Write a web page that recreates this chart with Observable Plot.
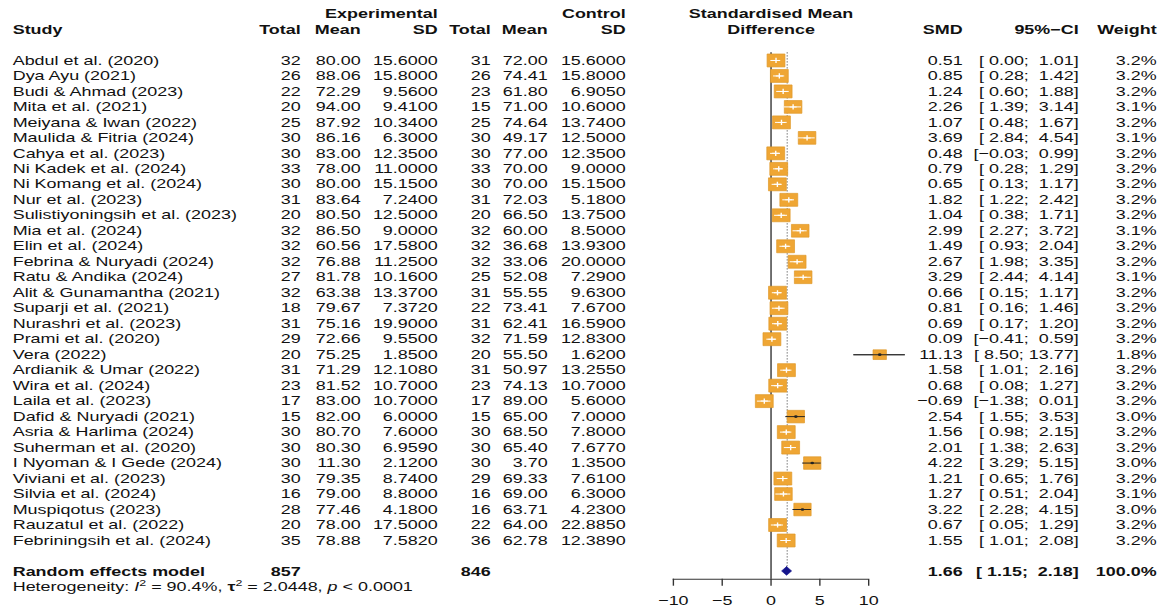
<!DOCTYPE html>
<html>
<head>
<meta charset="utf-8">
<script src="https://cdn.jsdelivr.net/npm/d3@7"></script>
<script src="https://cdn.jsdelivr.net/npm/@observablehq/plot@0.6"></script>
<style>
  html, body { margin: 0; padding: 0; background: #fff; }
  #chart svg text { white-space: pre; }
</style>
</head>
<body>
<div id="chart"></div>
<script>
// ---------------- data ----------------
const studies = ["Abdul et al. (2020)", "Dya Ayu (2021)", "Budi & Ahmad (2023)", "Mita et al. (2021)",
  "Meiyana & Iwan (2022)", "Maulida & Fitria (2024)", "Cahya et al. (2023)", "Ni Kadek et al. (2024)",
  "Ni Komang et al. (2024)", "Nur et al. (2023)", "Sulistiyoningsih et al. (2023)", "Mia et al. (2024)",
  "Elin et al. (2024)", "Febrina & Nuryadi (2024)", "Ratu & Andika (2024)", "Alit & Gunamantha (2021)",
  "Suparji et al. (2021)", "Nurashri et al. (2023)", "Prami et al. (2020)", "Vera (2022)",
  "Ardianik & Umar (2022)", "Wira et al. (2024)", "Laila et al. (2023)", "Dafid & Nuryadi (2021)",
  "Asria & Harlima (2024)", "Suherman et al. (2020)", "I Nyoman & I Gede (2024)", "Viviani et al. (2023)",
  "Silvia et al. (2024)", "Muspiqotus (2023)", "Rauzatul et al. (2022)", "Febriningsih et al. (2024)"];
const expTotal = [32,26,22,20,25,30,30,33,30,31,20,32,32,32,27,32,18,31,29,20,31,23,17,15,30,30,30,30,16,28,20,35];
const expMean = [80.00,88.06,72.29,94.00,87.92,86.16,83.00,78.00,80.00,83.64,80.50,86.50,60.56,76.88,81.78,63.38,
  79.67,75.16,72.66,75.25,71.29,81.52,83.00,82.00,80.70,80.30,11.30,79.35,79.00,77.46,78.00,78.88];
const expSD = [15.6,15.8,9.56,9.41,10.34,6.3,12.35,11.0,15.15,7.24,12.5,9.0,17.58,11.25,10.16,13.37,
  7.372,19.9,9.55,1.85,12.108,10.7,10.7,6.0,7.6,6.959,2.12,8.74,8.8,4.18,17.5,7.582];
const ctrlTotal = [31,26,23,15,25,30,30,33,30,31,20,32,32,32,25,31,22,31,32,20,31,23,17,15,30,30,30,29,16,16,22,36];
const ctrlMean = [72.00,74.41,61.80,71.00,74.64,49.17,77.00,70.00,70.00,72.03,66.50,60.00,36.68,33.06,52.08,55.55,
  73.41,62.41,71.59,55.50,50.97,74.13,89.00,65.00,68.50,65.40,3.70,69.33,69.00,63.71,64.00,62.78];
const ctrlSD = [15.6,15.8,6.905,10.6,13.74,12.5,12.35,9.0,15.15,5.18,13.75,8.5,13.93,20.0,7.29,9.63,
  7.67,16.59,12.83,1.62,13.255,10.7,5.6,7.0,7.8,7.677,1.35,7.61,6.3,4.23,22.885,12.389];
const smd = [0.51,0.85,1.24,2.26,1.07,3.69,0.48,0.79,0.65,1.82,1.04,2.99,1.49,2.67,3.29,0.66,
  0.81,0.69,0.09,11.13,1.58,0.68,-0.69,2.54,1.56,2.01,4.22,1.21,1.27,3.22,0.67,1.55];
const ciLower = [0.00,0.28,0.60,1.39,0.48,2.84,-0.03,0.28,0.13,1.22,0.38,2.27,0.93,1.98,2.44,0.15,
  0.16,0.17,-0.41,8.50,1.01,0.08,-1.38,1.55,0.98,1.38,3.29,0.65,0.51,2.28,0.05,1.01];
const ciUpper = [1.01,1.42,1.88,3.14,1.67,4.54,0.99,1.29,1.17,2.42,1.71,3.72,2.04,3.35,4.14,1.17,
  1.46,1.20,0.59,13.77,2.16,1.27,0.01,3.53,2.15,2.63,5.15,1.76,2.04,4.15,1.29,2.08];
const weight = [3.2,3.2,3.2,3.1,3.2,3.1,3.2,3.2,3.2,3.2,3.2,3.1,3.2,3.2,3.1,3.2,
  3.2,3.2,3.2,1.8,3.2,3.2,3.2,3.0,3.2,3.2,3.0,3.2,3.1,3.0,3.2,3.2];

const pooledLabel = "Random effects model";
const pooledExpTotal = 857, pooledCtrlTotal = 846;
const pooledSMD = 1.66, pooledLower = 1.15, pooledUpper = 2.18, pooledWeight = 100.0;
const hetI2 = 90.4, hetTau2 = 2.0448, hetP = "< 0.0001";
const axisTicks = [-10, -5, 0, 5, 10];

// ---------------- layout (original picture is stretched horizontally) ----------------
const K = 1.38;                       // horizontal stretch factor
const OUT_W = 1163, H = 610;
const W = OUT_W / K;
const X_LEFT = 672.7 / K, X_RIGHT = 868 / K;   // pixel ends of the forest axis (internal units)
const off = v => v / K - X_LEFT;      // dx relative to the frame's left edge
const FS = 13;
const HEAD1 = -2, HEAD2 = -1, SUM_IDX = 34, HET_IDX = 35, AXIS_IDX = 34.5;
const R_MAX = 7.3;                    // square "radius" for the largest weight
const SQ_FILL = "#EFA634", SQ_STROKE = "#E09A2A";

const minus = s => s.replace("-", "\u2212");
const fmt = (v, d) => minus(v.toFixed(d));
const ciText = (lo, hi) => `[${fmt(lo, 2).padStart(5, " ")}; ${fmt(hi, 2).padStart(5, " ")}]`;

const rows = studies.map((name, i) => ({
  idx: i + 1, name,
  eTotal: expTotal[i], eMean: expMean[i], eSD: expSD[i],
  cTotal: ctrlTotal[i], cMean: ctrlMean[i], cSD: ctrlSD[i],
  smd: smd[i], lo: ciLower[i], hi: ciUpper[i], w: weight[i]
}));

// is the CI entirely inside the square? (decides white vs dark CI line)
const unitsPerPx = 20 / (X_RIGHT - X_LEFT);
const maxW = d3.max(weight);
rows.forEach(r => {
  const half = R_MAX * Math.sqrt(r.w / maxW) * Math.sqrt(Math.PI) / 2 * unitsPerPx;
  r.inside = r.lo >= r.smd - half && r.hi <= r.smd + half;
});

const pooled = {idx: SUM_IDX, name: pooledLabel, eTotal: pooledExpTotal, cTotal: pooledCtrlTotal,
  smd: pooledSMD, lo: pooledLower, hi: pooledUpper, w: pooledWeight};

// table columns: right edge (outer px) and formatter
const cols = [
  {head: "Total",  x: 300,  f: r => String(r.eTotal)},
  {head: "Mean",   x: 360,  f: r => r.eMean.toFixed(2)},
  {head: "SD",     x: 437,  f: r => r.eSD.toFixed(4)},
  {head: "Total",  x: 490,  f: r => String(r.cTotal)},
  {head: "Mean",   x: 547,  f: r => r.cMean.toFixed(2)},
  {head: "SD",     x: 625,  f: r => r.cSD.toFixed(4)},
  {head: "SMD",    x: 962,  f: r => fmt(r.smd, 2)},
  {head: "95%\u2212CI", x: 1078, f: r => ciText(r.lo, r.hi)},
  {head: "Weight", x: 1156, f: r => r.w.toFixed(1) + "%"}
];
const pooledCols = [
  {x: 300, f: r => String(r.eTotal)},
  {x: 490, f: r => String(r.cTotal)},
  {x: 962, f: r => fmt(r.smd, 2)},
  {x: 1078, f: r => ciText(r.lo, r.hi)},
  {x: 1156, f: r => r.w.toFixed(1) + "%"}
];

const textBase = {frameAnchor: "left", fontSize: FS, fill: "#111"};
const marks = [];

// headers
marks.push(Plot.text(["Study"], {...textBase, y: () => HEAD2, dx: off(12), textAnchor: "start", fontWeight: "bold"}));
marks.push(Plot.text(["Experimental"], {...textBase, y: () => HEAD1, dx: off(437), textAnchor: "end", fontWeight: "bold"}));
marks.push(Plot.text(["Control"], {...textBase, y: () => HEAD1, dx: off(625), textAnchor: "end", fontWeight: "bold"}));
marks.push(Plot.text([{t: "Standardised Mean", y: HEAD1}, {t: "Difference", y: HEAD2}],
  {x: () => 0, y: "y", text: "t", fontSize: FS, fontWeight: "bold", fill: "#111"}));
for (const c of cols) {
  marks.push(Plot.text([c.head], {...textBase, y: () => HEAD2, dx: off(c.x), textAnchor: "end", fontWeight: "bold"}));
  marks.push(Plot.text(rows, {...textBase, y: "idx", text: c.f, dx: off(c.x), textAnchor: "end"}));
}
// study names
marks.push(Plot.text(rows, {...textBase, y: "idx", text: "name", dx: off(12), textAnchor: "start"}));
// pooled row
marks.push(Plot.text([pooled], {...textBase, y: "idx", text: "name", dx: off(12), textAnchor: "start", fontWeight: "bold"}));
for (const c of pooledCols) {
  marks.push(Plot.text([pooled], {...textBase, y: "idx", text: c.f, dx: off(c.x), textAnchor: "end", fontWeight: "bold"}));
}
// heterogeneity (rich formatting applied after rendering)
const hetPlain = `Heterogeneity: I2 = ${hetI2}%, \u03c42 = ${hetTau2}, p ${hetP}`;
marks.push(Plot.text([hetPlain], {...textBase, y: () => HET_IDX, dx: off(12), textAnchor: "start"}));

// forest
marks.push(Plot.ruleX([0], {y1: 0.5, y2: AXIS_IDX, stroke: "#555", strokeWidth: 1.2}));
marks.push(Plot.ruleX([pooledSMD], {y1: 0.5, y2: SUM_IDX - 0.3, stroke: "#8a8a8a", strokeWidth: 1, strokeDasharray: "1.2,1.8"}));
marks.push(Plot.ruleY(rows.filter(r => !r.inside), {y: "idx", x1: "lo", x2: "hi", stroke: "#555", strokeWidth: 1}));
marks.push(Plot.dot(rows, {x: "smd", y: "idx", r: "w", symbol: "square", fill: SQ_FILL, stroke: SQ_STROKE, strokeWidth: 0.6}));
marks.push(Plot.ruleY(rows.filter(r => r.inside), {y: "idx", x1: "lo", x2: "hi", stroke: "white", strokeWidth: 1}));
marks.push(Plot.ruleY(rows.filter(r => !r.inside), {y: "idx", x1: "lo", x2: "hi", stroke: "#222", strokeWidth: 1}));
marks.push(Plot.dot(rows.filter(r => r.inside), {x: "smd", y: "idx", symbol: "plus", r: 1.8, stroke: "white", strokeWidth: 1}));
marks.push(Plot.dot(rows.filter(r => !r.inside), {x: "smd", y: "idx", r: 1.3, fill: "#222"}));
// pooled diamond
const DH = 0.28;
const diamond = [
  {y: SUM_IDX - DH, x1: pooledSMD, x2: pooledSMD},
  {y: SUM_IDX, x1: pooledLower, x2: pooledUpper},
  {y: SUM_IDX + DH, x1: pooledSMD, x2: pooledSMD}
];
marks.push(Plot.areaX(diamond, {y: "y", x1: "x1", x2: "x2", fill: "#15158c", stroke: "#15158c", strokeWidth: 0.5}));
// axis
marks.push(Plot.ruleY([AXIS_IDX], {x1: axisTicks[0], x2: axisTicks[axisTicks.length - 1], stroke: "#333", strokeWidth: 1}));
marks.push(Plot.axisX({ticks: axisTicks, tickSize: 7, tickPadding: 10, fontSize: FS, stroke: "#333",
  tickFormat: t => minus(String(t)), label: null, fill: "#111"}));

const chart = Plot.plot({
  width: W,
  height: H,
  marginLeft: X_LEFT,
  marginRight: W - X_RIGHT,
  marginTop: 13.5,
  marginBottom: H - 578.7,
  x: {domain: [axisTicks[0], axisTicks[axisTicks.length - 1]], axis: null},
  y: {domain: [HEAD1, AXIS_IDX], reverse: true, axis: null},
  r: {domain: [0, maxW], range: [0, R_MAX]},
  style: {fontFamily: "'Liberation Sans', Arial, Helvetica, sans-serif", fontSize: FS + "px", background: "white", overflow: "visible"},
  marks
});

// heterogeneity with italics and superscripts
const het = Array.from(chart.querySelectorAll("text")).find(t => t.textContent === hetPlain);
if (het) {
  while (het.firstChild) het.removeChild(het.firstChild);
  const parts = [
    ["Heterogeneity: ", {}],
    ["I", {"font-style": "italic"}],
    ["2", {"baseline-shift": "super", "font-size": "9"}],
    [` = ${hetI2}%, `, {}],
    ["\u03c4", {"font-weight": "bold"}],
    ["2", {"baseline-shift": "super", "font-size": "9"}],
    [` = ${hetTau2}, `, {}],
    ["p", {"font-style": "italic"}],
    [` ${hetP}`, {}]
  ];
  for (const [t, attrs] of parts) {
    const ts = document.createElementNS("http://www.w3.org/2000/svg", "tspan");
    ts.textContent = t;
    for (const [k, v] of Object.entries(attrs)) ts.setAttribute(k, v);
    het.appendChild(ts);
  }
}

// stretch horizontally like the original picture
chart.setAttribute("width", OUT_W);
chart.setAttribute("height", H);
chart.setAttribute("preserveAspectRatio", "none");
chart.style.width = OUT_W + "px";
chart.style.height = H + "px";
chart.style.maxWidth = "none";
document.getElementById("chart").appendChild(chart);
</script>
</body>
</html>
